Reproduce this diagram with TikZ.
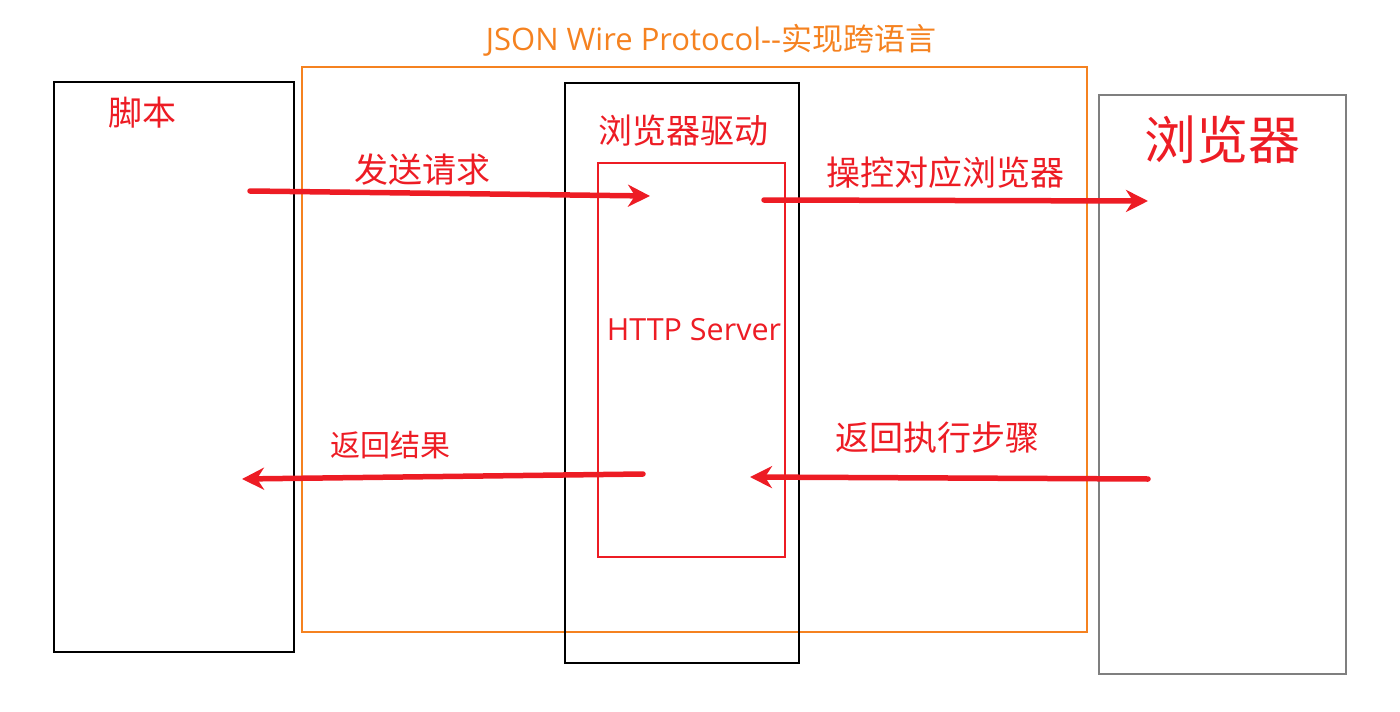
\documentclass[tikz,border=0pt]{standalone}
\usepackage{fontspec}
\setmainfont{Open Sans}
\newfontfamily\cjk{Noto Sans CJK SC}
\usetikzlibrary{arrows.meta}
\definecolor{cred}{HTML}{ED1C24}
\definecolor{corange}{HTML}{F58220}
\definecolor{cgray}{HTML}{7F7F7F}
\tikzset{
  blackbox/.style={draw=black,line width=2pt},
  redarrow/.style={draw=cred,line width=5.5pt,line cap=round,-{Stealth[length=22pt,width=22pt,inset=7pt]}},
  redlabel/.style={text=cred,font=\cjk\fontsize{34}{40}\selectfont,inner sep=0pt},
}
\begin{document}
\begin{tikzpicture}[x=1pt,y=-1pt]
\useasboundingbox (0,0) rectangle (1400,712);
% boxes
\draw[blackbox] (54,82) rectangle (294,652);
\draw[draw=corange,line width=1.5pt] (302,67) rectangle (1087,632);
\draw[blackbox] (565,83) rectangle (799,663);
\draw[draw=cred,line width=1.5pt] (598,163) rectangle (785,557);
\draw[draw=cgray,line width=2pt] (1099,95) rectangle (1346,674);
% texts
\node[text=corange,inner sep=0pt] (title) at (711,40) {\fontsize{31}{36}\selectfont JSON Wire Protocol{-}{-}{\cjk 实现跨语言}};
\node[redlabel] (script) at (142,113) {脚本};
\node[redlabel] (driver) at (683,131) {浏览器驱动};
\node[redlabel,font=\cjk\fontsize{52}{60}\selectfont] (browser) at (1222,140) {浏览器};
\node[redlabel] (l1) at (422,170) {发送请求};
\node[redlabel] (l2) at (945,173) {操控对应浏览器};
\node[text=cred,inner sep=0pt,font=\fontsize{30.5}{36}\selectfont] (http) at (694,330) {HTTP Server};
\node[redlabel,font=\cjk\fontsize{30}{36}\selectfont] (l3) at (390,445) {返回结果};
\node[redlabel] (l4) at (937,438) {返回执行步骤};
% arrow endpoints
\coordinate (a1s) at (250,191); \coordinate (a1e) at (650,196);
\coordinate (a2s) at (764,200); \coordinate (a2e) at (1148,201);
\coordinate (a3s) at (643,474); \coordinate (a3e) at (242,479);
\coordinate (a4s) at (1148,479); \coordinate (a4e) at (750,477);
\draw[redarrow] (a1s) -- (a1e);
\draw[redarrow] (a2s) -- (a2e);
\draw[redarrow] (a3s) -- (a3e);
\draw[redarrow] (a4s) -- (a4e);
\end{tikzpicture}
\end{document}
